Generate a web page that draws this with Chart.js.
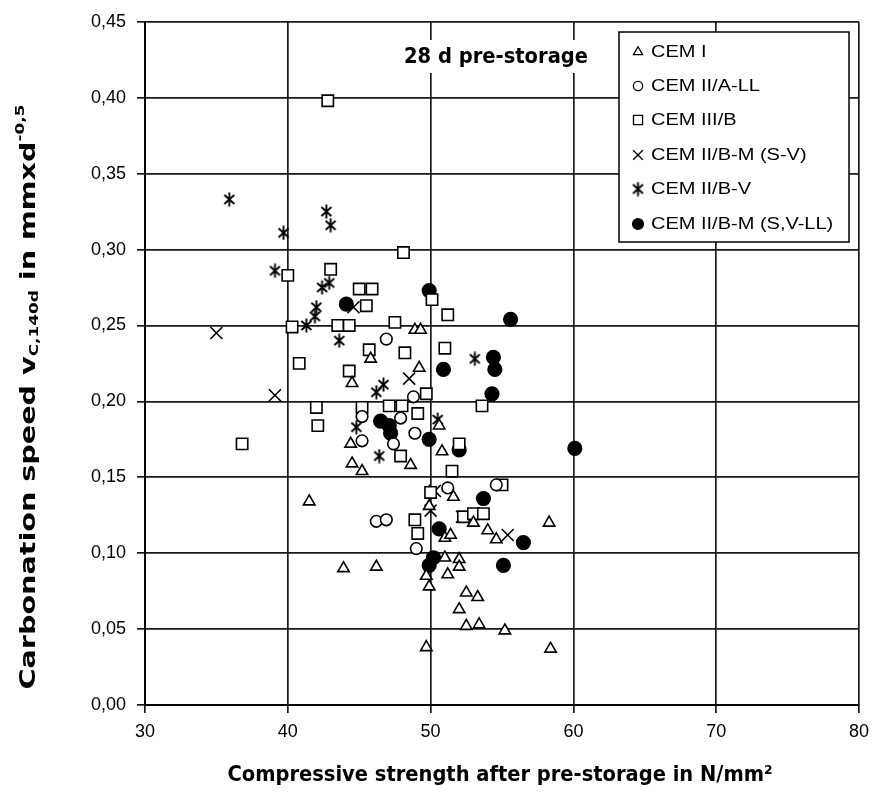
<!DOCTYPE html>
<html><head><meta charset="utf-8">
<script src="https://cdn.jsdelivr.net/npm/chart.js@4.4.0/dist/chart.umd.min.js"></script>
<style>html,body{margin:0;padding:0;background:#fff;}#wrap{position:relative;width:877px;height:794px;}</style>
</head><body><div id="wrap"><canvas id="c" width="877" height="794"></canvas></div>
<script>
const xTicks = [30, 40, 50, 60, 70, 80];
const yTicks = [0, 0.05, 0.10, 0.15, 0.20, 0.25, 0.30, 0.35, 0.40, 0.45];
const seriesNames = ["CEM I", "CEM II/A-LL", "CEM III/B", "CEM II/B-M (S-V)", "CEM II/B-V", "CEM II/B-M (S,V-LL)"];
const xTitle = "Compressive strength after pre-storage in N/mm\u00B2";
const noteText = "28 d pre-storage";

const cemI = [[48.9,0.247],[49.3,0.247],[45.8,0.228],[49.2,0.222],[44.5,0.212],[44.4,0.172],[44.5,0.159],[45.2,0.154],[48.6,0.158],[50.8,0.167],[50.6,0.184],[51.6,0.137],[49.9,0.131],[51.0,0.110],[51.4,0.112],[53.0,0.120],[54.0,0.115],[54.6,0.109],[58.3,0.120],[41.5,0.134],[43.9,0.090],[46.2,0.091],[51.0,0.097],[52.0,0.096],[52.0,0.091],[51.2,0.086],[49.7,0.085],[49.9,0.078],[52.5,0.074],[53.3,0.071],[52.0,0.063],[52.5,0.052],[53.4,0.053],[55.2,0.049],[49.7,0.038],[58.4,0.037]];
const cemIIALL = [[46.9,0.241],[48.8,0.203],[45.2,0.190],[47.9,0.189],[48.9,0.179],[45.2,0.174],[47.4,0.172],[46.2,0.121],[46.9,0.122],[49.0,0.103],[51.2,0.143],[54.6,0.145]];
const cemIIIB = [[42.8,0.398],[48.1,0.298],[40.0,0.283],[43.0,0.287],[45.0,0.274],[45.9,0.274],[45.5,0.263],[40.3,0.249],[43.5,0.250],[44.3,0.250],[47.5,0.252],[50.1,0.267],[51.2,0.257],[40.8,0.225],[45.7,0.234],[48.2,0.232],[44.3,0.220],[51.0,0.235],[49.7,0.205],[42.0,0.196],[45.2,0.196],[47.1,0.197],[48.0,0.197],[49.1,0.192],[42.1,0.184],[36.8,0.172],[53.6,0.197],[47.9,0.164],[52.0,0.172],[51.5,0.154],[50.0,0.140],[55.0,0.145],[48.9,0.122],[49.1,0.113],[52.3,0.124],[53.0,0.126],[53.7,0.126]];
const cemIIBMSV = [[35.0,0.245],[39.1,0.204],[48.5,0.215],[44.6,0.262],[52.2,0.124],[55.4,0.112],[50.3,0.141],[50.0,0.128]];
const cemIIBV = [[35.9,0.333],[39.7,0.311],[42.7,0.325],[43.0,0.316],[39.1,0.286],[42.9,0.278],[42.4,0.275],[42.0,0.262],[41.9,0.256],[41.3,0.250],[43.6,0.240],[46.2,0.206],[46.7,0.211],[44.8,0.183],[46.4,0.164],[50.5,0.188],[53.1,0.228]];
const cemIIBMSVLL = [[44.1,0.264],[49.9,0.273],[55.6,0.254],[50.9,0.221],[54.4,0.229],[54.5,0.221],[54.3,0.205],[46.5,0.187],[47.1,0.184],[47.2,0.179],[49.9,0.175],[52.0,0.168],[60.1,0.169],[53.7,0.136],[50.6,0.116],[56.5,0.107],[50.2,0.097],[49.9,0.092],[55.1,0.092]];

function makeAsterisk(){
  const c = document.createElement('canvas'); c.width = 15; c.height = 15;
  const g = c.getContext('2d'); g.strokeStyle = '#000'; g.lineWidth = 1.9;
  g.beginPath();
  g.moveTo(2.5,3); g.lineTo(12.5,12); g.moveTo(12.5,3); g.lineTo(2.5,12);
  g.moveTo(7.5,0.5); g.lineTo(7.5,14.5);
  g.stroke();
  return c;
}
const asterisk = makeAsterisk();
const pts = a => a.map(p => ({x:p[0], y:p[1]}));

const styles = [
  {pointStyle:'triangle', radius:6.6, bg:'#fff'},
  {pointStyle:'circle', radius:5.8, bg:'#fff'},
  {pointStyle:'rect', radius:8.0, bg:'#fff'},
  {pointStyle:'crossRot', radius:8.5, bg:'#fff'},
  {pointStyle:asterisk, radius:7, bg:'#fff'},
  {pointStyle:'circle', radius:6.8, bg:'#000'}
];
const seriesData = [cemI, cemIIALL, cemIIIB, cemIIBMSV, cemIIBV, cemIIBMSVLL];

const datasets = seriesData.map((d,i) => ({
  label: seriesNames[i],
  data: pts(d),
  pointStyle: styles[i].pointStyle,
  pointRadius: styles[i].radius,
  pointBackgroundColor: styles[i].bg,
  pointBorderColor: '#000',
  pointBorderWidth: 1.6,
  showLine: false
}));

function fitText(ctx, text, cx, cy, width){
  const w = ctx.measureText(text).width;
  ctx.save(); ctx.translate(cx, cy); ctx.scale(width / w, 1);
  ctx.textAlign = 'center'; ctx.textBaseline = 'middle';
  ctx.fillText(text, 0, 0); ctx.restore();
}
const BF = '"Liberation Sans Narrow", "DejaVu Sans Condensed", "Liberation Sans", Arial, sans-serif';

const overlay = {
  id: 'overlay',
  afterDraw(chart){
    const ctx = chart.ctx;
    ctx.save();
    ctx.fillStyle = '#000';
    ctx.font = 'bold 22px ' + BF;
    fitText(ctx, xTitle, 500, 775, 545);
    const segs = [
      {t:'Carbonation speed v', f:'bold 22px ' + BF, dy:0},
      {t:'C,140d', f:'bold 13px ' + BF, dy:6},
      {t:' in mmxd', f:'bold 22px ' + BF, dy:0},
      {t:'-0,5', f:'bold 13px ' + BF, dy:-8}
    ];
    let total = 0;
    segs.forEach(s => { ctx.font = s.f; s.w = ctx.measureText(s.t).width; total += s.w; });
    const target = 585, sc = target / total;
    ctx.save();
    ctx.translate(29, 397); ctx.rotate(-Math.PI/2); ctx.scale(sc, 1);
    ctx.textBaseline = 'middle'; ctx.textAlign = 'left';
    let x = -total/2;
    segs.forEach(s => { ctx.font = s.f; ctx.fillText(s.t, x, s.dy); x += s.w; });
    ctx.restore();
    ctx.fillStyle = '#fff';
    ctx.fillRect(395, 40, 200, 33);
    ctx.fillStyle = '#000';
    ctx.font = 'bold 21px ' + BF;
    fitText(ctx, noteText, 496, 58, 184);
    ctx.fillStyle = '#fff';
    ctx.fillRect(619, 32, 230, 210);
    ctx.strokeStyle = '#000'; ctx.lineWidth = 1.5;
    ctx.strokeRect(619, 32, 230, 210);
    const ys = [52, 86, 120, 155, 189, 224];
    chart.data.datasets.forEach((ds, i) => {
      ctx.save();
      ctx.fillStyle = styles[i].bg; ctx.strokeStyle = '#000'; ctx.lineWidth = 1.3;
      const r = styles[i].pointStyle === asterisk ? 6 : styles[i].radius * 0.8;
      Chart.helpers.drawPoint(ctx, {pointStyle: styles[i].pointStyle, rotation: 0, radius: r, borderWidth: 1.3}, 638, ys[i]);
      ctx.restore();
      ctx.fillStyle = '#000';
      ctx.font = '16px "Liberation Sans", Arial, sans-serif';
      ctx.save();
      ctx.translate(651, ys[i] + 1); ctx.scale(1.25, 1);
      ctx.textAlign = 'left'; ctx.textBaseline = 'middle';
      ctx.fillText(ds.label, 0, 0);
      ctx.restore();
    });
    ctx.restore();
  }
};

const tickFont = {size: 18, family: '"Liberation Sans", Arial, sans-serif'};
new Chart(document.getElementById('c'), {
  type: 'scatter',
  data: {datasets},
  plugins: [overlay],
  options: {
    responsive: false,
    animation: false,
    devicePixelRatio: 1,
    layout: {padding: {top: 18, right: 17, left: 0, bottom: 0}},
    plugins: {legend: {display: false}, tooltip: {enabled: false}},
    scales: {
      x: {
        type: 'linear', min: 30, max: 80,
        afterBuildTicks: s => { s.ticks = xTicks.map(v => ({value: v})); },
        afterFit: s => { s.height = 89; },
        ticks: {color: '#000', font: tickFont, padding: 8, maxRotation: 0},
        grid: {color: '#1a1a1a', lineWidth: 1.7, tickLength: 8, tickColor: '#1a1a1a'},
        border: {color: '#000', width: 2}
      },
      y: {
        type: 'linear', min: 0, max: 0.45,
        afterBuildTicks: s => { s.ticks = yTicks.map(v => ({value: v})); },
        afterFit: s => { s.width = 145; },
        ticks: {color: '#000', font: tickFont, padding: 11,
          callback: v => v.toFixed(2).replace('.', ',')},
        grid: {color: '#1a1a1a', lineWidth: 1.7, tickLength: 8, tickColor: '#1a1a1a'},
        border: {color: '#000', width: 2}
      }
    }
  }
});
</script>
</body></html>
